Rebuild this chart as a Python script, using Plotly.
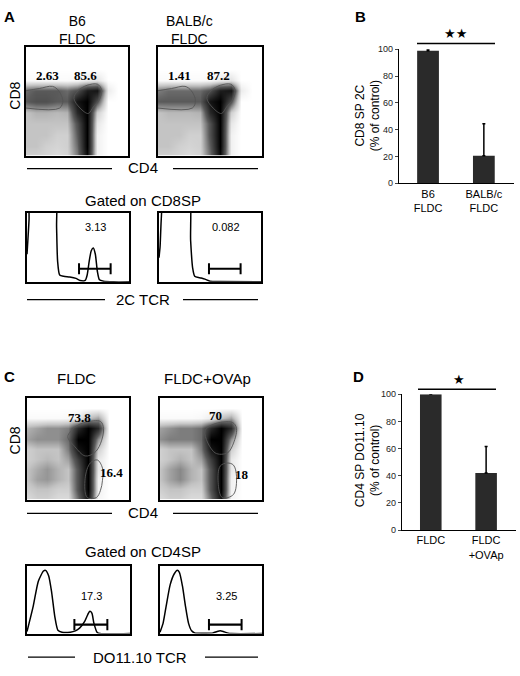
import plotly.graph_objects as go

W, H = 520, 676


def fx(p):
    return p / W


def fy(p):
    return 1 - p / H


# ---------------- data ----------------
# density grids (rows listed top -> bottom, 0 = white, 1 = black)
grid_x = [0, 10, 20, 30, 40, 50, 60, 70, 80, 90, 100]
grid_y = [0, 10, 20, 30, 40, 50, 60, 70, 80, 90, 100]

dens_a1 = [
    [0, 0, 0, 0, 0, 0, 0, 0, 0, 0, 0],
    [0, 0, 0, 0, 0, 0, 0, 0, 0, 0, 0],
    [0, 0, 0, 0, 0, 0, 0, 0, 0, 0, 0],
    [0.02, 0.02, 0.02, 0.02, 0.02, 0.03, 0.08, 0.12, 0, 0, 0],
    [0.5, 0.55, 0.55, 0.55, 0.5, 0.6, 0.85, 0.9, 0.08, 0, 0],
    [0.55, 0.6, 0.6, 0.55, 0.55, 0.9, 1, 0.6, 0, 0, 0],
    [0.25, 0.3, 0.3, 0.28, 0.3, 0.8, 1, 0.2, 0, 0, 0],
    [0.25, 0.25, 0.25, 0.25, 0.25, 0.6, 1, 0.1, 0, 0, 0],
    [0.25, 0.25, 0.25, 0.2, 0.2, 0.55, 1, 0.06, 0, 0, 0],
    [0.25, 0.25, 0.2, 0.18, 0.2, 0.5, 1, 0.06, 0, 0, 0],
    [0.2, 0.2, 0.18, 0.15, 0.18, 0.45, 0.95, 0.06, 0, 0, 0],
]
dens_a2 = [
    [0, 0, 0, 0, 0, 0, 0, 0, 0, 0, 0],
    [0, 0, 0, 0, 0, 0, 0, 0, 0, 0, 0],
    [0, 0, 0, 0, 0, 0, 0, 0, 0, 0, 0],
    [0.02, 0.02, 0.02, 0.02, 0.02, 0.03, 0.08, 0.12, 0, 0, 0],
    [0.45, 0.5, 0.5, 0.5, 0.5, 0.6, 0.85, 0.9, 0.08, 0, 0],
    [0.55, 0.55, 0.55, 0.55, 0.55, 0.9, 1, 0.6, 0, 0, 0],
    [0.25, 0.28, 0.28, 0.28, 0.3, 0.8, 1, 0.2, 0, 0, 0],
    [0.25, 0.25, 0.25, 0.25, 0.25, 0.6, 1, 0.1, 0, 0, 0],
    [0.25, 0.25, 0.25, 0.2, 0.2, 0.6, 1, 0.06, 0, 0, 0],
    [0.25, 0.25, 0.2, 0.18, 0.2, 0.55, 1, 0.06, 0, 0, 0],
    [0.2, 0.2, 0.18, 0.15, 0.18, 0.5, 0.95, 0.06, 0, 0, 0],
]
dens_c1 = [
    [0, 0, 0, 0, 0, 0, 0, 0, 0, 0, 0],
    [0, 0, 0, 0, 0, 0, 0, 0, 0, 0, 0],
    [0.02, 0.02, 0.02, 0.02, 0.03, 0.08, 0.25, 0.35, 0, 0, 0],
    [0.3, 0.35, 0.4, 0.4, 0.45, 0.8, 1, 0.8, 0, 0, 0],
    [0.35, 0.4, 0.4, 0.4, 0.5, 1, 1, 0.4, 0, 0, 0],
    [0.2, 0.25, 0.25, 0.25, 0.45, 0.9, 1, 0.2, 0, 0, 0],
    [0.2, 0.25, 0.28, 0.25, 0.35, 0.7, 1, 0.1, 0, 0, 0],
    [0.25, 0.32, 0.38, 0.3, 0.25, 0.6, 1, 0.1, 0, 0, 0],
    [0.25, 0.35, 0.38, 0.3, 0.25, 0.6, 1, 0.06, 0, 0, 0],
    [0.2, 0.25, 0.25, 0.2, 0.2, 0.6, 1, 0.06, 0, 0, 0],
    [0.15, 0.2, 0.2, 0.15, 0.15, 0.5, 0.9, 0.04, 0, 0, 0],
]
dens_c2 = [
    [0, 0, 0, 0, 0, 0, 0, 0, 0, 0, 0],
    [0, 0, 0, 0, 0, 0, 0, 0, 0, 0, 0],
    [0.02, 0.02, 0.02, 0.02, 0.03, 0.08, 0.25, 0.35, 0, 0, 0],
    [0.35, 0.4, 0.45, 0.45, 0.5, 0.8, 1, 0.8, 0, 0, 0],
    [0.4, 0.45, 0.45, 0.45, 0.5, 1, 1, 0.4, 0, 0, 0],
    [0.2, 0.25, 0.25, 0.25, 0.45, 0.9, 1, 0.2, 0, 0, 0],
    [0.2, 0.25, 0.3, 0.25, 0.35, 0.7, 1, 0.1, 0, 0, 0],
    [0.25, 0.35, 0.42, 0.3, 0.25, 0.6, 1, 0.1, 0, 0, 0],
    [0.25, 0.35, 0.42, 0.3, 0.25, 0.6, 1, 0.06, 0, 0, 0],
    [0.2, 0.25, 0.25, 0.2, 0.2, 0.6, 1, 0.06, 0, 0, 0],
    [0.15, 0.2, 0.2, 0.15, 0.15, 0.5, 0.9, 0.04, 0, 0, 0],
]

# gate outlines (percent of plot width / height)
gate_sp8_x = [0, 13, 26, 32, 36, 33, 0]
gate_sp8_y = [60, 62, 64, 60, 51, 44, 44]
gate_dp_a_x = [47, 51, 60, 70, 74, 72, 66, 61, 53, 47]
gate_dp_a_y = [53, 60, 65, 66, 61, 52, 45, 39, 44, 53]
gate_dp_c1_x = [40, 48, 57, 72, 75, 72, 66, 57, 47, 40]
gate_dp_c1_y = [62, 72, 76, 77, 70, 55, 46, 43, 52, 62]
gate_sp4_c1_x = [69, 74, 74, 72, 68, 59, 57, 62, 69]
gate_sp4_c1_y = [39, 31, 19, 9, 2, 2, 21, 36, 39]
gate_dp_c2_x = [44, 52, 71, 75, 71, 66, 54, 44]
gate_dp_c2_y = [67, 74, 76, 70, 53, 46, 46, 67]
gate_sp4_c2_x = [66, 72, 75, 72, 61, 57, 59, 66]
gate_sp4_c2_y = [36, 34, 23, 5, 2, 17, 33, 36]

gate_pct_a = [["2.63", "85.6"], ["1.41", "87.2"]]
gate_pct_c = [["73.8", "16.4"], ["70", "18"]]

# histograms (x: percent of plot width, y: percent of plot height)
hist_a1_x = [0, 2, 3, 10, 20, 28, 29, 30, 32, 36, 42, 48, 52, 57, 59, 61, 63, 65, 67, 69, 71, 75, 85, 100]
hist_a1_y = [40, 90, 140, 140, 140, 140, 80, 30, 10, 8, 7, 5, 2, 2, 10, 30, 45, 49, 40, 15, 3, 1, 0, 0]
hist_a2_x = [0, 1, 6, 15, 29, 31, 33, 35, 40, 45, 50, 60, 100]
hist_a2_y = [35, 50, 140, 140, 140, 60, 20, 8, 6, 4, 1, 0.5, 0]
hist_c1_x = [0, 6, 11, 16, 18, 21, 24, 27, 30, 34, 42, 47, 51, 56, 59, 61, 63, 65, 68, 71, 100]
hist_c1_y = [3, 40, 77, 92, 93, 85, 60, 25, 5, 2, 2, 4, 8, 18, 28, 33, 30, 15, 2, 0, 0]
hist_c2_x = [0, 3, 6, 10, 14, 17, 19, 22, 25, 28, 31, 34, 45, 52, 56, 59, 62, 66, 70, 100]
hist_c2_y = [2, 15, 40, 72, 88, 93, 90, 70, 40, 15, 4, 1, 0.5, 1, 3, 4, 3, 1, 0, 0]

hist_gate_a = [[51, 82], [49, 80]]
hist_gate_c = [[46, 78], [48, 80]]
hist_pct_a = ["3.13", "0.082"]
hist_pct_c = ["17.3", "3.25"]

# bar charts
b_labels = ["B6<br>FLDC", "BALB/c<br>FLDC"]
b_values = [99, 20.5]
b_err = [1, 24]
d_labels = ["FLDC", "FLDC<br>+OVAp"]
d_values = [100, 42]
d_err = [0.5, 19.5]

# ---------------- layout geometry (pixels: left, right, top, bottom) ----------------
boxes = [
    (26, 128, 43, 153), (158, 262, 43, 153),
    (27, 129, 211, 281), (159, 261, 211, 281),
    (399, 514, 45, 181),
    (27, 129, 399, 502), (160, 262, 399, 502),
    (27, 130, 569, 638), (160, 262, 569, 638),
    (402, 516, 395, 533),
]

SANS = "Liberation Sans, Arial, sans-serif"
NARROW = "Liberation Sans Narrow, Arial Narrow, Liberation Sans, sans-serif"
SERIF = "Liberation Serif, Times New Roman, serif"

fig = go.Figure()
layout = dict(width=W, height=H, autosize=False, margin=dict(l=0, r=0, t=0, b=0),
              paper_bgcolor="white", plot_bgcolor="rgba(0,0,0,0)", showlegend=False)

for i, (l, r, t, b) in enumerate(boxes, start=1):
    sx = "" if i == 1 else str(i)
    if i in (5, 10):
        continue
    common = dict(showgrid=False, zeroline=False, showline=True, linecolor="black",
                  fixedrange=True, mirror=True, linewidth=1.5, showticklabels=False, ticks="")
    layout["xaxis" + sx] = dict(domain=[fx(l), fx(r)], range=[0, 100], anchor="y" + sx, **common)
    layout["yaxis" + sx] = dict(domain=[fy(b), fy(t)], range=[0, 100], anchor="x" + sx, **common)

for i, labels in ((5, b_labels), (10, d_labels)):
    l, r, t, b = boxes[i - 1]
    layout["xaxis%d" % i] = dict(domain=[fx(l), fx(r)], range=[-0.52, 1.54], anchor="y%d" % i,
                                 tickvals=[0, 1], ticktext=labels, ticks="", linewidth=1.2,
                                 tickfont=dict(family=SANS, size=11, color="black"),
                                 showgrid=False, zeroline=False, showline=True, linecolor="black")
    layout["yaxis%d" % i] = dict(domain=[fy(b), fy(t)], range=[0, 100], anchor="x%d" % i,
                                 tickvals=[0, 20, 40, 60, 80, 100], ticks="outside", ticklen=3,
                                 tickwidth=1, linewidth=1.2, linecolor="black", showline=True,
                                 tickfont=dict(family=NARROW, size=9, color="#222"),
                                 showgrid=False, zeroline=False)

gray = [[0, "#ffffff"], [0.25, "#c4c4c4"], [0.55, "#5a5a5a"], [1, "#000000"]]


def ax(i):
    return ("x" if i == 1 else "x%d" % i), ("y" if i == 1 else "y%d" % i)


# dot plots
dot_sets = [
    (1, dens_a1, [(gate_sp8_x, gate_sp8_y), (gate_dp_a_x, gate_dp_a_y)]),
    (2, dens_a2, [(gate_sp8_x, gate_sp8_y), (gate_dp_a_x, gate_dp_a_y)]),
    (6, dens_c1, [(gate_dp_c1_x, gate_dp_c1_y), (gate_sp4_c1_x, gate_sp4_c1_y)]),
    (7, dens_c2, [(gate_dp_c2_x, gate_dp_c2_y), (gate_sp4_c2_x, gate_sp4_c2_y)]),
]
for i, dens, gates in dot_sets:
    xa, ya = ax(i)
    fig.add_trace(go.Heatmap(x=grid_x, y=grid_y, z=dens[::-1], xaxis=xa, yaxis=ya,
                             colorscale=gray, zmin=0, zmax=1, zsmooth="best",
                             showscale=False, hoverinfo="skip"))
    for gx, gy in gates:
        fig.add_trace(go.Scatter(x=gx, y=gy, xaxis=xa, yaxis=ya, mode="lines",
                                 line=dict(color="#555", width=0.9, shape="spline"),
                                 hoverinfo="skip"))

# histograms
hist_sets = [
    (3, hist_a1_x, hist_a1_y, hist_gate_a[0], 19, hist_pct_a[0], 79),
    (4, hist_a2_x, hist_a2_y, hist_gate_a[1], 19, hist_pct_a[1], 79),
    (8, hist_c1_x, hist_c1_y, hist_gate_c[0], 13, hist_pct_c[0], 55),
    (9, hist_c2_x, hist_c2_y, hist_gate_c[1], 13, hist_pct_c[1], 55),
]
for i, hx, hy, gate, gh, pct, ty in hist_sets:
    xa, ya = ax(i)
    fig.add_trace(go.Scatter(x=hx, y=hy, xaxis=xa, yaxis=ya, mode="lines",
                             line=dict(color="black", width=1.5, shape="spline", smoothing=0.6),
                             hoverinfo="skip"))
    fig.add_trace(go.Scatter(x=gate, y=[gh, gh], xaxis=xa, yaxis=ya, mode="lines+markers",
                             line=dict(color="black", width=2.2),
                             marker=dict(symbol="line-ns", size=8,
                                         line=dict(color="black", width=2)),
                             hoverinfo="skip"))
    fig.add_annotation(x=(gate[0] + gate[1]) / 2 + 1, y=ty, xref=xa, yref=ya, text=pct,
                       showarrow=False, xanchor="center", yanchor="middle",
                       font=dict(family=SANS, size=11, color="black"))

# bar charts
for i, vals, errs in [(5, b_values, b_err), (10, d_values, d_err)]:
    xa, ya = ax(i)
    fig.add_trace(go.Bar(x=[0, 1], y=vals, width=0.39, xaxis=xa, yaxis=ya,
                         marker=dict(color="#2a2a2a", line=dict(width=0)),
                         error_y=dict(type="data", symmetric=False, array=errs,
                                      arrayminus=[0, 0], color="black", thickness=1.5, width=1.5),
                         hoverinfo="skip"))

# gate percentages on dot plots
pct_pos = {1: [(21, 74), (58, 74)], 2: [(21, 74), (58, 74)],
           6: [(51, 81), (83, 27)], 7: [(54, 83), (80, 25)]}
for i, pcts in zip((1, 2, 6, 7), gate_pct_a + gate_pct_c):
    xa, ya = ax(i)
    for (px_, py_), txt in zip(pct_pos[i], pcts):
        fig.add_annotation(x=px_, y=py_, xref=xa, yref=ya, text="<b>%s</b>" % txt,
                           showarrow=False, xanchor="center", yanchor="middle",
                           font=dict(family=SERIF, size=13, color="black"))


def note(text, x, y, size=15, angle=0, bold=False, family=SANS):
    if bold:
        text = "<b>%s</b>" % text
    fig.add_annotation(x=fx(x), y=fy(y), xref="paper", yref="paper", text=text,
                       showarrow=False, textangle=angle, xanchor="center", yanchor="middle",
                       font=dict(family=family, size=size, color="black"))


shapes = []


def hline(x0, x1, y, w=1.2):
    shapes.append(dict(type="line", xref="paper", yref="paper", x0=fx(x0), x1=fx(x1),
                       y0=fy(y), y1=fy(y), line=dict(color="black", width=w)))


# panel letters
note("A", 9, 12, 15, bold=True)
note("B", 360, 12, 15, bold=True)
note("C", 9, 377, 15, bold=True)
note("D", 358, 377, 15, bold=True)

# panel A text
note("B6<br>FLDC", 77, 25, 14)
note("BALB/c<br>FLDC", 189, 25, 14)
note("CD8", 15, 92, 14, angle=-90)
note("CD4", 143, 165, 15)
hline(27, 112, 166)
hline(173, 258, 166)
note("Gated on CD8SP", 143, 198, 15)
note("2C TCR", 143, 299, 15)
hline(27, 105, 299)
hline(183, 258, 299)

# panel B text
note("CD8 SP 2C<br>(% of control)", 368, 113, 12, angle=-90)
hline(417, 495, 39, 1.5)
note("★★", 455, 29, 13, family="DejaVu Sans")

# panel C text
note("FLDC", 76, 379)
note("FLDC+OVAp", 207, 379)
note("CD8", 15, 442, 14, angle=-90)
note("CD4", 143, 515, 15)
hline(27, 112, 516)
hline(173, 258, 516)
note("Gated on CD4SP", 143, 555, 15)
note("DO11.10 TCR", 140, 662, 15)
hline(28, 75, 662)
hline(205, 258, 662)

# panel D text
note("CD4 SP DO11.10<br>(% of control)", 368, 462, 12, angle=-90)
hline(418, 496, 390, 1.5)
note("★", 459, 380, 13, family="DejaVu Sans")

layout["shapes"] = shapes
fig.update_layout(**layout)
fig.write_html("out.html", config=dict(displayModeBar=False),
               post_script="document.body.style.margin='0';document.body.style.overflow='hidden';")
